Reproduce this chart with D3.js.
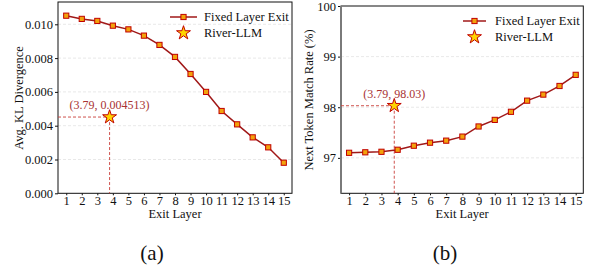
<!DOCTYPE html>
<html><head><meta charset="utf-8">
<script src="https://cdn.jsdelivr.net/npm/d3@7"></script>
<style>body{margin:0;background:#fff}svg{display:block}</style>
</head><body><svg id="c" width="594" height="268" font-family="Liberation Serif"></svg>
<script>
const layers = [1,2,3,4,5,6,7,8,9,10,11,12,13,14,15];
const klValues = [0.01051,0.01032,0.01020,0.00992,0.00970,0.00933,0.00878,0.00807,0.00706,0.00600,0.00487,0.00408,0.00331,0.00272,0.00181];
const matchValues = [97.10,97.11,97.12,97.16,97.24,97.30,97.34,97.42,97.62,97.75,97.91,98.13,98.25,98.42,98.64];
const riverKL = {x:3.79, y:0.004513, label:"(3.79, 0.004513)"};
const riverMatch = {x:3.79, y:98.03, label:"(3.79, 98.03)"};
const klTicks = [0,0.002,0.004,0.006,0.008,0.010];
const matchTicks = [97,98,99,100];
const seriesNames = ["Fixed Layer Exit","River-LLM"];
const panelLabels = ["(a)","(b)"];

const FONT="Liberation Serif";
const svg = d3.select("#c");
const LINE="#a01818", MFILL="#f2a20c", MEDGE="#c00000", STAR="#ffd400", ANN="#a83232";
const star = d3.symbol().type(d3.symbolStar);

function txt(g){ return g.append("text").attr("font-family",FONT); }

function panel(o){
  const g = svg.append("g");
  const x = d3.scaleLinear().domain(o.xd).range([o.l,o.r]);
  const y = d3.scaleLinear().domain(o.yd).range([o.b,o.t]);
  g.selectAll(".grid").data(o.ticks.filter(t=>y(t)>o.t+1 && y(t)<o.b-1)).enter().append("line")
    .attr("x1",o.l).attr("x2",o.r).attr("y1",d=>y(d)).attr("y2",d=>y(d))
    .attr("stroke","#e2e2e2").attr("stroke-width",0.8).attr("stroke-dasharray","3,2");
  const ya = g.append("g").attr("transform",`translate(${o.l},0)`)
    .call(d3.axisLeft(y).tickValues(o.ticks).tickFormat(o.fmt).tickSize(3).tickPadding(2));
  const xa = g.append("g").attr("transform",`translate(0,${o.b})`)
    .call(d3.axisBottom(x).tickValues(layers).tickSize(2).tickPadding(1));
  [ya,xa].forEach(a=>{a.attr("font-family",FONT).attr("font-size",12.5);
    a.select(".domain").remove();
    a.selectAll("text").attr("font-family",FONT).attr("font-size",12.5).attr("fill","#111");
    a.selectAll("line").attr("stroke","#111");});
  g.append("rect").attr("x",o.l).attr("y",o.t).attr("width",o.r-o.l).attr("height",o.b-o.t)
    .attr("fill","none").attr("stroke","#111").attr("stroke-width",1);
  if(o.graySpine) g.append("line").attr("x1",o.l).attr("x2",o.l).attr("y1",o.t).attr("y2",o.b)
    .attr("stroke","#7a7a7a").attr("stroke-width",2);
  g.append("line").attr("x1",o.l).attr("x2",x(o.river.x)).attr("y1",y(o.river.y)).attr("y2",y(o.river.y))
    .attr("stroke","#c9403a").attr("stroke-width",0.9).attr("stroke-dasharray","3,2");
  g.append("line").attr("x1",x(o.river.x)).attr("x2",x(o.river.x)).attr("y1",y(o.river.y)).attr("y2",o.b)
    .attr("stroke","#c9403a").attr("stroke-width",0.9).attr("stroke-dasharray","3,2");
  g.append("path").datum(o.vals).attr("fill","none").attr("stroke",LINE).attr("stroke-width",1.5)
    .attr("d",d3.line().x((d,i)=>x(layers[i])).y(d=>y(d)));
  g.selectAll(".m").data(o.vals).enter().append("rect")
    .attr("x",(d,i)=>x(layers[i])-2.6).attr("y",d=>y(d)-2.6).attr("width",5.2).attr("height",5.2)
    .attr("fill",MFILL).attr("stroke",MEDGE).attr("stroke-width",1);
  g.append("path").attr("d",star.size(60)()).attr("transform",`translate(${x(o.river.x)},${y(o.river.y)})`)
    .attr("fill",STAR).attr("stroke",MEDGE).attr("stroke-width",1);
  txt(g).attr("x",x(o.river.x)).attr("y",y(o.river.y)-8).attr("text-anchor","middle")
    .attr("font-size",12).attr("fill",ANN).text(o.river.label);
  txt(g).attr("x",(o.l+o.r)/2).attr("y",218).attr("text-anchor","middle").attr("font-size",12.5).attr("fill","#111").text("Exit Layer");
  txt(g).attr("transform",`translate(${o.ylx},${o.yly}) rotate(-90)`).attr("text-anchor","middle")
    .attr("dominant-baseline","central").attr("font-size",12.5).attr("fill","#111").text(o.ylabel);
  const L=o.leg;
  g.append("line").attr("x1",L.x1).attr("x2",L.x2).attr("y1",L.y).attr("y2",L.y).attr("stroke",LINE).attr("stroke-width",1.5);
  g.append("rect").attr("x",(L.x1+L.x2)/2-2.6).attr("y",L.y-2.6).attr("width",5.2).attr("height",5.2).attr("fill",MFILL).attr("stroke",MEDGE);
  g.append("path").attr("d",star.size(60)()).attr("transform",`translate(${(L.x1+L.x2)/2},${L.y+16})`).attr("fill",STAR).attr("stroke",MEDGE);
  txt(g).attr("x",L.tx).attr("y",L.y).attr("dominant-baseline","central").attr("font-size",12.5).attr("fill","#111").text(seriesNames[0]);
  txt(g).attr("x",L.tx).attr("y",L.y+16).attr("dominant-baseline","central").attr("font-size",12.5).attr("fill","#111").text(seriesNames[1]);
  txt(svg).attr("x",o.px).attr("y",253).attr("text-anchor","middle").attr("dominant-baseline","central")
    .attr("font-size",21).attr("fill","#111").text(o.plabel);
}

panel({l:58,r:292,t:2,b:193.3,xd:[0.47,15.53],yd:[0,0.01132],ticks:klTicks,fmt:d3.format(".3f"),
  vals:klValues,river:riverKL,ylabel:"Avg. KL Divergence",ylx:19,yly:98,
  leg:{x1:170,x2:197,y:17,tx:204},plabel:panelLabels[0],px:152});
panel({l:341,r:583.3,t:6,b:193.3,xd:[0.5,15.47],yd:[96.3,100],ticks:matchTicks,fmt:d3.format("d"),graySpine:true,
  vals:matchValues,river:riverMatch,ylabel:"Next Token Match Rate (%)",ylx:309,yly:100,
  leg:{x1:463,x2:486,y:21,tx:495},plabel:panelLabels[1],px:445});
</script></body></html>
